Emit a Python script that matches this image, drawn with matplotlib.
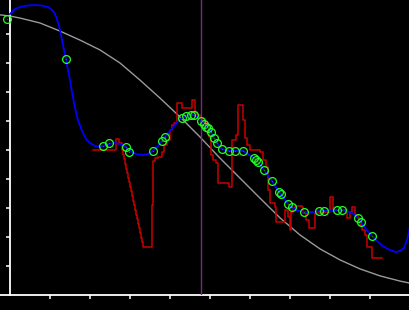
import matplotlib
matplotlib.use("Agg")
import matplotlib.pyplot as plt

# ---- data ----
gray_x = [-2.5, 0, 2.5, 7.5, 12.5, 17.5, 22.5, 27.5, 32.5, 37.5, 42.5, 47.5, 52.5,
          57.5, 62.5, 67.5, 72.5, 77.5, 82.5, 87.5, 92.5, 97.5, 100]
gray_y = [96.6, 96.2, 95.5, 93.8, 91.0, 87.9, 84.5, 80.0, 74.1, 67.9, 61.4, 54.5, 47.2,
          40.3, 33.4, 26.6, 20.7, 15.9, 12.1, 9.0, 6.6, 4.8, 4.1]

blue_x = [0, 1.25, 2.5, 4.25, 6.25, 8.0, 9.5, 10.5, 11.25, 12.0, 12.5, 13.0, 13.5, 14.0,
          14.5, 15.0, 15.5, 16.25, 17.0, 18.0, 19.0, 20.0, 21.25, 22.5, 23.25, 24.75,
          26.25, 27.5, 29.0, 30.0, 31.5, 33.0, 34.5, 35.75, 37.0, 38.0, 38.75, 40.0,
          41.25, 42.5, 44.0, 45.25, 46.25, 47.25, 47.75, 48.5, 49.25, 50.25, 51.0,
          51.75, 53.0, 54.5, 56.25, 58.25, 59.5, 61.0, 62.0, 63.5, 65.5, 67.25, 68.75,
          70.0, 71.5, 73.5, 75.5, 77.5, 80.0, 83.0, 85.0, 86.25, 87.75, 89.0, 90.5,
          92.0, 93.5, 95.0, 96.5, 97.5, 98.5, 99.25, 99.75, 100.0]
blue_y = [96.9, 98.6, 99.3, 99.8, 100.0, 99.8, 99.3, 98.3, 96.9, 94.1, 91.4, 87.9, 84.5,
          81.4, 77.6, 74.1, 70.0, 64.5, 60.3, 56.6, 53.8, 52.4, 51.4, 51.2, 51.4, 52.1,
          52.4, 52.1, 51.0, 49.7, 48.6, 48.3, 48.6, 49.7, 51.4, 53.1, 54.5, 56.6, 58.6,
          60.7, 61.7, 62.1, 61.9, 61.0, 60.0, 59.0, 57.9, 56.2, 54.1, 52.4, 50.3, 49.7,
          49.7, 49.7, 48.6, 47.2, 45.9, 43.1, 39.3, 35.5, 32.8, 30.7, 29.3, 28.6, 28.6,
          29.0, 29.0, 29.3, 28.6, 27.6, 25.2, 22.8, 20.3, 18.3, 16.6, 15.5, 14.8, 15.2,
          16.2, 19.0, 21.7, 23.8]

red_x = [20.75, 26.5, 27.25,
         28.0, 28.25, 28.5, 28.75, 29.0, 29.25, 29.5, 29.75, 30.0, 30.25, 30.5, 30.75,
         31.0, 31.25, 31.5, 31.75, 32.0, 32.25, 32.5, 32.75, 33.0, 33.25,
         35.5, 35.75, 36.25, 37.0, 38.0, 38.5, 39.25, 40.0, 40.5, 41.0,
         41.75, 43.0, 45.5, 46.25, 46.75, 47.5, 48.25, 49.0, 49.75, 50.25, 50.75, 51.5,
         52.0, 54.75, 55.5, 56.5, 57.0, 58.25, 58.75, 59.25, 60.0, 61.5, 62.5, 63.25,
         64.0, 64.5, 65.0, 66.25, 66.5, 68.75, 69.5, 70.0, 70.25, 70.75, 71.25, 73.0,
         73.25, 74.0, 74.75, 76.25, 78.25, 80.0, 80.75, 84.25, 85.0, 85.5, 86.25, 87.0,
         87.5, 88.0, 88.75, 89.25, 90.5, 93.0]
red_y = [50.0, 53.8, 52.4,
         50.0, 48.4, 46.8, 45.2, 43.6, 42.0, 40.5, 38.9, 37.3, 35.7, 34.1, 32.5,
         30.9, 29.3, 27.7, 26.1, 24.5, 23.0, 21.4, 19.8, 18.2, 16.6,
         31.0, 46.2, 47.2, 47.6, 49.3, 51.7, 53.4, 56.9, 58.6, 59.3, 66.2,
         64.5, 67.2, 63.1, 62.1, 61.0, 59.7, 57.6, 54.5, 48.3, 46.6, 45.5, 38.6, 37.2,
         53.4, 55.2, 65.5, 60.3, 54.1, 51.7, 50.0, 50.0, 49.3, 46.6, 44.1, 36.2, 31.7,
         30.3, 25.2, 29.3, 26.9, 22.4, 28.6, 30.0, 30.7, 30.3, 28.3, 25.9, 23.1, 28.3,
         28.6, 33.8, 29.3, 26.6, 28.6, 30.3, 27.6, 26.6, 24.1, 22.4, 20.7, 16.6, 12.8,
         12.8]

pts_x = [-0.75, 14.0, 23.25, 24.75, 29.0, 29.75, 35.75, 38.0, 38.75, 43.0, 44.0, 45.25,
         46.0, 47.75, 48.5, 49.0, 49.5, 50.25, 51.0, 51.75, 53.0, 54.75, 56.25, 58.25,
         61.0, 61.5, 62.0, 63.5, 65.5, 67.25, 67.75, 69.5, 70.5, 73.5, 77.25, 78.5,
         81.75, 83.0, 87.0, 87.75, 90.5]
pts_y = [95.2, 81.4, 51.4, 52.4, 51.0, 49.3, 49.7, 53.1, 54.5, 61.0, 61.7, 62.1, 62.1,
         60.0, 59.0, 57.9, 57.6, 56.2, 54.1, 52.4, 50.3, 49.7, 49.7, 49.7, 47.2, 46.6,
         45.9, 43.1, 39.3, 35.5, 34.8, 31.4, 30.3, 28.6, 29.0, 29.0, 29.3, 29.3, 26.6,
         25.2, 20.3]

marker_x = 47.75
x_ticks = [10, 20, 30, 40, 50, 60, 70, 80, 90]
y_ticks = [10, 20, 30, 40, 50, 60, 70, 80, 90]

# ---- figure ----
W, H = 410, 310
fig = plt.figure(figsize=(W / 100, H / 100), dpi=100, facecolor="#000000")
ax = fig.add_axes([0, 15 / H, 1, 295 / H])
ax.set_facecolor("#000000")
ax.set_xlim(-2.5, 100)
ax.set_ylim(0, 295 / 2.9)

ax.plot(gray_x, gray_y, color="#9a9a9a", lw=1.0, zorder=2)
ax.plot(red_x, red_y, color="#c80000", lw=1.1, drawstyle="steps-post", zorder=3)
ax.plot(blue_x, blue_y, color="#0000ff", lw=1.3, zorder=4)
ax.axvline(marker_x, color="#7a2a80", lw=1.0, zorder=5)
ax.plot(pts_x, pts_y, linestyle="none", marker="o", markersize=5.6,
        markerfacecolor="none", markeredgecolor="#22ff22", markeredgewidth=0.9,
        zorder=6, clip_on=False)
ax.plot(pts_x, pts_y, linestyle="none", marker="o", markersize=1.0,
        markerfacecolor="#117711", markeredgecolor="#117711", markeredgewidth=0,
        zorder=6, clip_on=False)

for s in ["top", "right"]:
    ax.spines[s].set_visible(False)
ax.spines["left"].set_position(("data", 0))
for s in ["left", "bottom"]:
    ax.spines[s].set_color("white")
    ax.spines[s].set_linewidth(1.3)
ax.set_xticks(x_ticks)
ax.set_yticks(y_ticks)
ax.set_xticklabels([])
ax.set_yticklabels([])
ax.tick_params(direction="out", length=3.2, width=1.1, colors="white")

fig.savefig("out.png", dpi=100, facecolor="#000000")
